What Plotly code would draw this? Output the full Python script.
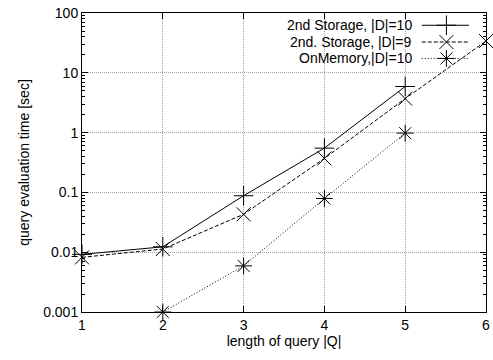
import plotly.graph_objects as go

# ---- data ----
query_len = [1, 2, 3, 4, 5, 6]
storage_d10_x = [1, 2, 3, 4, 5]
storage_d10 = [0.0092, 0.0123, 0.088, 0.55, 5.9]
storage_d9_x = [1, 2, 3, 4, 5, 6]
storage_d9 = [0.0082, 0.0113, 0.043, 0.37, 3.7, 34]
onmemory_x = [2, 3, 4, 5]
onmemory = [0.001, 0.0059, 0.079, 0.98]

series_names = ["2nd Storage, |D|=10", "2nd. Storage, |D|=9", "OnMemory,|D|=10"]
y_tickvals = [0.001, 0.01, 0.1, 1, 10, 100]
y_ticktext = ["0.001", "0.01", "0.1", "1", "10", "100"]
x_tickvals = [1, 2, 3, 4, 5, 6]

FONT = "Liberation Sans, Arial, sans-serif"
FS = 14
styles = [
    dict(dash="solid", symbol="cross-thin-open"),
    dict(dash="4px,2px", symbol="x-thin-open"),
    dict(dash="1px,2px", symbol="asterisk-open"),
]
MSIZE = 14

fig = go.Figure()
for (xs, ys), st, nm in zip(
    [(storage_d10_x, storage_d10), (storage_d9_x, storage_d9), (onmemory_x, onmemory)],
    styles, series_names):
    fig.add_trace(go.Scatter(
        x=xs, y=ys, mode="lines+markers", name=nm, showlegend=False,
        line=dict(color="black", width=1, dash=st["dash"]),
        marker=dict(symbol=st["symbol"], size=MSIZE, color="black",
                    line=dict(color="black", width=1)),
        cliponaxis=False,
    ))

# manual gnuplot-style legend (text right-aligned, sample on the right)
leg_rows = [0.959, 0.903, 0.848]
leg_text_x = 0.8206
leg_line = [0.841, 0.958]
leg_mark = 0.902
for row, st, nm in zip(leg_rows, styles, series_names):
    fig.add_trace(go.Scatter(
        x=leg_line, y=[row, row], xaxis="x2", yaxis="y2", mode="lines",
        line=dict(color="black", width=1, dash=st["dash"]), showlegend=False,
        hoverinfo="skip"))
    fig.add_trace(go.Scatter(
        x=[leg_mark], y=[row], xaxis="x2", yaxis="y2", mode="markers",
        marker=dict(symbol=st["symbol"], size=MSIZE, color="black",
                    line=dict(color="black", width=1)),
        showlegend=False, hoverinfo="skip"))
    fig.add_annotation(x=leg_text_x, y=row, xref="x2", yref="y2", text=nm,
                       showarrow=False, xanchor="right", yanchor="middle",
                       font=dict(family=FONT, size=FS, color="black"))

axis_common = dict(
    showline=True, linecolor="black", linewidth=1, mirror="allticks",
    ticks="inside", ticklen=6, tickcolor="black", tickwidth=1,
    showgrid=True, gridcolor="#a0a0a0", gridwidth=1, griddash="1px,1px",
    zeroline=False, tickfont=dict(family=FONT, size=FS, color="black"),
    ticklabeloverflow="allow",
)

fig.update_layout(
    width=493, height=360,
    margin=dict(l=81.5, r=3, t=12.7, b=48),
    paper_bgcolor="white", plot_bgcolor="white",
    font=dict(family=FONT, size=FS, color="black"),
    showlegend=False,
    xaxis=dict(range=[1, 6], tickvals=x_tickvals,
               title=dict(text="length of query |Q|", standoff=0,
                          font=dict(family=FONT, size=FS)),
               **axis_common),
    yaxis=dict(type="log", range=[-3, 2], tickvals=y_tickvals, ticktext=y_ticktext,
               minor=dict(ticks="inside", ticklen=3, tickcolor="black",
                          dtick="D1", showgrid=False),
               title=dict(text="query evaluation time [sec]", standoff=10,
                          font=dict(family=FONT, size=FS)),
               **axis_common),
    xaxis2=dict(overlaying="x", range=[0, 1], visible=False, anchor="y2"),
    yaxis2=dict(overlaying="y", range=[0, 1], visible=False, anchor="x2"),
)

fig.write_html("out.html")
